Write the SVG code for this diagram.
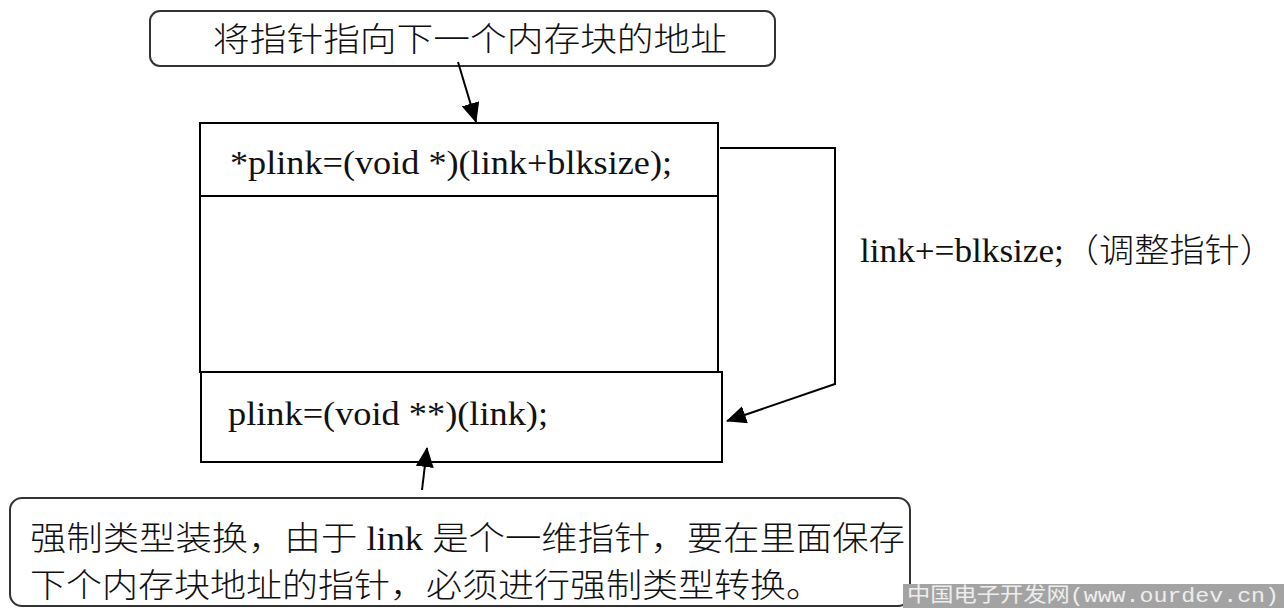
<svg xmlns="http://www.w3.org/2000/svg" width="1284" height="608" viewBox="0 0 1284 608">
<defs>
<style>
.t{font-family:"Liberation Serif","Noto Sans CJK SC",serif;fill:#111;font-weight:300;}
.wm{font-family:"Liberation Mono","Noto Sans CJK SC",monospace;fill:#eeeeee;}
.box{fill:#fff;stroke:#000;stroke-width:2;}
.rbox{fill:#fff;stroke:#333;stroke-width:2;}
.conn{fill:none;stroke:#000;stroke-width:2;}
</style>
<marker id="ah" viewBox="0 0 20 18" refX="19" refY="9" markerWidth="20" markerHeight="18" markerUnits="userSpaceOnUse" orient="auto">
<path d="M0,0 L20,9 L0,18 z" fill="#000"/>
</marker>
</defs>
<rect width="1284" height="608" fill="#fff"/>

<g id="top-note">
<rect class="rbox" x="150" y="11" width="625" height="55" rx="10"/>
<text class="t" x="213" y="51" font-size="33" textLength="514" lengthAdjust="spacingAndGlyphs">将指针指向下一个内存块的地址</text>
</g>

<g id="block-top">
<rect class="box" x="200" y="123" width="518" height="73"/>
<text class="t" x="230" y="174" font-size="33" textLength="442" lengthAdjust="spacingAndGlyphs">*plink=(void *)(link+blksize);</text>
</g>

<g id="block-middle">
<rect class="box" x="200" y="196" width="518" height="176"/>
</g>

<g id="block-bottom">
<rect class="box" x="201" y="372" width="521" height="90"/>
<text class="t" x="228" y="425" font-size="33" textLength="320" lengthAdjust="spacingAndGlyphs">plink=(void **)(link);</text>
</g>

<g id="label-adjust">
<text class="t" x="860" y="262" font-size="33" textLength="415" lengthAdjust="spacingAndGlyphs">link+=blksize;（调整指针）</text>
</g>

<g id="bottom-note">
<rect class="rbox" x="10" y="498" width="900" height="108" rx="12"/>
<text class="t" x="30" y="550" font-size="33" textLength="875" lengthAdjust="spacingAndGlyphs">强制类型装换，由于 link 是个一维指针，要在里面保存</text>
<text class="t" x="30" y="597" font-size="33" textLength="792" lengthAdjust="spacingAndGlyphs">下个内存块地址的指针，必须进行强制类型转换。</text>
</g>

<g id="connectors">
<line class="conn" x1="458" y1="62" x2="476" y2="122" marker-end="url(#ah)"/>
<polyline class="conn" points="720,148 835,148 835,384 727,421" marker-end="url(#ah)"/>
<line class="conn" x1="422" y1="490" x2="427" y2="448" marker-end="url(#ah)"/>
</g>

<g id="watermark">
<rect x="903" y="584" width="381" height="24" fill="#a3a3a3"/>
<text class="wm" x="907" y="602" font-size="20" textLength="372" lengthAdjust="spacingAndGlyphs">中国电子开发网(www.ourdev.cn)</text>
</g>
</svg>
